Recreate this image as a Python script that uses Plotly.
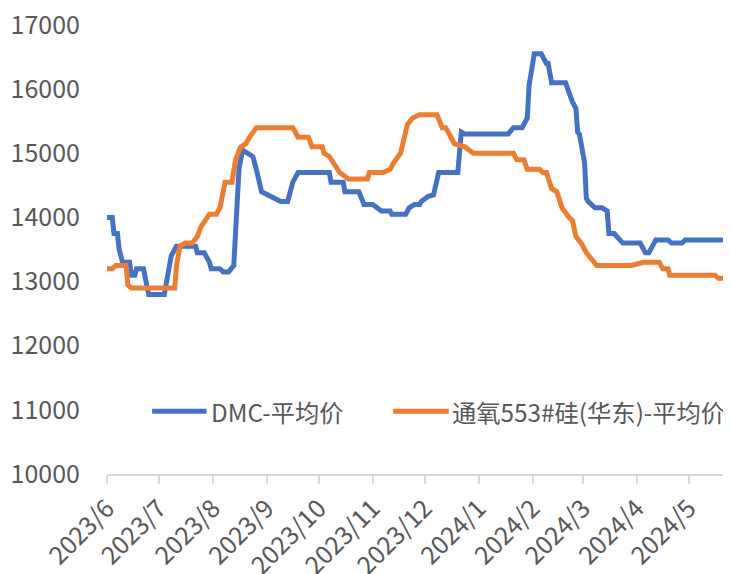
import plotly.graph_objects as go

# DMC-平均价 (blue)
dmc_dates = [
    "2023-06-01", "2023-06-04", "2023-06-05", "2023-06-07", "2023-06-08", "2023-06-10",
    "2023-06-14", "2023-06-15", "2023-06-17", "2023-06-18", "2023-06-22", "2023-06-25",
    "2023-07-04", "2023-07-08", "2023-07-11", "2023-07-22", "2023-07-23", "2023-07-27",
    "2023-07-30", "2023-07-31", "2023-08-05", "2023-08-07", "2023-08-10", "2023-08-13",
    "2023-08-14", "2023-08-16", "2023-08-18", "2023-08-21", "2023-08-24", "2023-08-26",
    "2023-08-28", "2023-08-29", "2023-09-09", "2023-09-13", "2023-09-16", "2023-09-19",
    "2023-10-07", "2023-10-08", "2023-10-15", "2023-10-16", "2023-10-24", "2023-10-27",
    "2023-11-01", "2023-11-06", "2023-11-11", "2023-11-12", "2023-11-20", "2023-11-22",
    "2023-11-25", "2023-11-28", "2023-11-29", "2023-12-03", "2023-12-06", "2023-12-09",
    "2023-12-20", "2023-12-22", "2023-12-24", "2024-01-18", "2024-01-21", "2024-01-26",
    "2024-01-29", "2024-01-30", "2024-02-02", "2024-02-06", "2024-02-09", "2024-02-10",
    "2024-02-12", "2024-02-20", "2024-02-24", "2024-02-26", "2024-02-27", "2024-02-28",
    "2024-03-02", "2024-03-03", "2024-03-04", "2024-03-08", "2024-03-12", "2024-03-15",
    "2024-03-16", "2024-03-19", "2024-03-24", "2024-04-03", "2024-04-06", "2024-04-08",
    "2024-04-12", "2024-04-19", "2024-04-21", "2024-04-27", "2024-04-29", "2024-05-21",
]
dmc_values = [
    14000, 14000, 13750, 13750, 13500, 13300,
    13300, 13100, 13100, 13200, 13200, 12800,
    12800, 13400, 13550, 13550, 13450, 13450,
    13300, 13200, 13200, 13150, 13150, 13250,
    13750, 14750, 15050, 15000, 14950, 14750,
    14450, 14400, 14250, 14250, 14550, 14700,
    14700, 14550, 14550, 14400, 14400, 14200,
    14200, 14100, 14100, 14050, 14050, 14150,
    14200, 14200, 14250, 14330, 14350, 14700,
    14700, 15330, 15300, 15300, 15400, 15400,
    15550, 16050, 16550, 16550, 16400, 16400,
    16100, 16100, 15800, 15700, 15330, 15300,
    14850, 14300, 14250, 14150, 14150, 14100,
    13750, 13750, 13600, 13600, 13450, 13450,
    13650, 13650, 13600, 13600, 13650, 13650,
]

# 通氧553#硅(华东)-平均价 (orange)
si_dates = [
    "2023-06-01", "2023-06-04", "2023-06-06", "2023-06-12", "2023-06-13", "2023-06-15",
    "2023-07-10", "2023-07-11", "2023-07-13", "2023-07-16", "2023-07-20", "2023-07-23",
    "2023-07-25", "2023-07-30", "2023-08-03", "2023-08-05", "2023-08-08", "2023-08-12",
    "2023-08-14", "2023-08-17", "2023-08-20", "2023-08-22", "2023-08-26", "2023-09-16",
    "2023-09-19", "2023-09-25", "2023-09-27", "2023-10-03", "2023-10-04", "2023-10-07",
    "2023-10-13", "2023-10-16", "2023-10-18", "2023-10-29", "2023-10-30", "2023-11-07",
    "2023-11-11", "2023-11-13", "2023-11-17", "2023-11-21", "2023-11-24", "2023-11-28",
    "2023-12-08", "2023-12-11", "2023-12-13", "2023-12-17", "2023-12-18", "2023-12-24",
    "2023-12-29", "2024-01-21", "2024-01-23", "2024-01-27", "2024-01-29", "2024-02-05",
    "2024-02-07", "2024-02-09", "2024-02-12", "2024-02-15", "2024-02-18", "2024-02-22",
    "2024-02-24", "2024-02-26", "2024-02-29", "2024-03-03", "2024-03-06", "2024-03-09",
    "2024-03-29", "2024-04-05", "2024-04-14", "2024-04-16", "2024-04-19", "2024-04-20",
    "2024-05-16", "2024-05-18", "2024-05-21",
]
si_values = [
    13200, 13200, 13250, 13250, 12950, 12900,
    12900, 13250, 13550, 13600, 13600, 13700,
    13850, 14050, 14050, 14150, 14550, 14550,
    14900, 15100, 15150, 15250, 15400, 15400,
    15250, 15250, 15100, 15100, 15000, 14950,
    14700, 14650, 14600, 14600, 14700, 14700,
    14750, 14850, 15000, 15450, 15550, 15600,
    15600, 15400, 15400, 15200, 15150, 15100,
    15000, 15000, 14900, 14900, 14750, 14750,
    14700, 14700, 14450, 14400, 14150, 14000,
    13950, 13700, 13600, 13450, 13350, 13250,
    13250, 13300, 13300, 13200, 13200, 13100,
    13100, 13050, 13050,
]

series_names = ["DMC-平均价", "通氧553#硅(华东)-平均价"]
series_colors = ["#4472C4", "#ED7D31"]

tick_dates = ["2023-06-01", "2023-07-01", "2023-08-01", "2023-09-01", "2023-10-01",
              "2023-11-01", "2023-12-01", "2024-01-01", "2024-02-01", "2024-03-01",
              "2024-04-01", "2024-05-01"]
tick_labels = ["2023/6", "2023/7", "2023/8", "2023/9", "2023/10", "2023/11",
               "2023/12", "2024/1", "2024/2", "2024/3", "2024/4", "2024/5"]
y_ticks = [10000, 11000, 12000, 13000, 14000, 15000, 16000, 17000]
y_labels = ["10000", "11000", "12000", "13000", "14000", "15000", "16000", "17000"]

FONT = "Noto Sans CJK SC, Noto Sans, sans-serif"
GRAY = "#595959"
FS = 25
LEG_FS = 24.3

fig = go.Figure()
fig.add_trace(go.Scatter(x=dmc_dates, y=dmc_values, mode="lines", name=series_names[0],
                         line=dict(color=series_colors[0], width=5), showlegend=False))
fig.add_trace(go.Scatter(x=si_dates, y=si_values, mode="lines", name=series_names[1],
                         line=dict(color=series_colors[1], width=5), showlegend=False))

# legend drawn as paper-anchored swatches + real text
legend_y = 0.14
legend_slots = [(0.073, 0.161, 0.167), (0.463, 0.553, 0.557)]
for (x0, x1, xt), name, color in zip(legend_slots, series_names, series_colors):
    fig.add_shape(type="line", xref="paper", yref="paper", x0=x0, x1=x1,
                  y0=legend_y, y1=legend_y, line=dict(color=color, width=5))
    fig.add_annotation(xref="paper", yref="paper", x=xt, y=legend_y, text=name,
                       showarrow=False, xanchor="left", yanchor="middle", borderpad=0,
                       font=dict(size=LEG_FS, color=GRAY, family=FONT))

fig.update_layout(
    width=723, height=566,
    margin=dict(l=99, r=6, t=17, b=100, autoexpand=False),
    paper_bgcolor="white", plot_bgcolor="white",
    font=dict(family=FONT, color=GRAY, size=FS),
    showlegend=False,
)
fig.update_xaxes(
    type="date", range=["2023-06-01", "2024-05-21 20:00"], automargin=False,
    tickmode="array", tickvals=tick_dates, ticktext=tick_labels, tickangle=-45,
    showgrid=False, zeroline=False,
    showline=True, linecolor="#D9D9D9", linewidth=1.5,
    ticks="outside", ticklen=8, tickcolor="#D9D9D9", tickwidth=1.5,
    tickfont=dict(size=FS, color=GRAY, family=FONT),
)
fig.update_yaxes(
    range=[10000, 17000], tickmode="array", tickvals=y_ticks, ticktext=y_labels,
    automargin=False, showgrid=False, zeroline=False, ticklabeloverflow="allow",
    showline=False, ticks="", ticklabelstandoff=26,
    tickfont=dict(size=FS, color=GRAY, family=FONT),
)

fig.write_html("out.html")
